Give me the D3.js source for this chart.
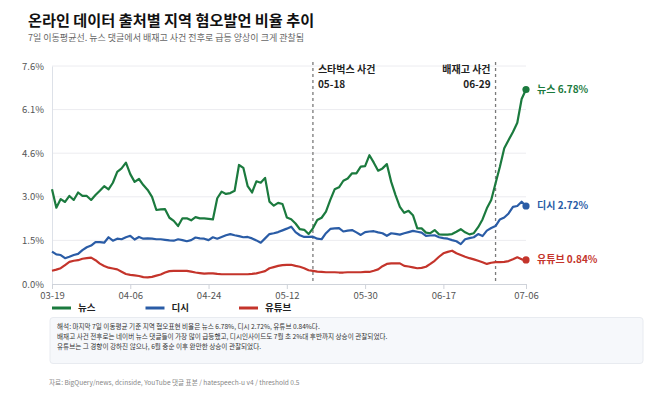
<!DOCTYPE html>
<html><head><meta charset="utf-8">
<script src="https://cdn.jsdelivr.net/npm/d3@7"></script>
<style>
html,body{margin:0;padding:0;background:#fff;}
svg{display:block;font-family:"Noto Sans CJK KR","Noto Sans",sans-serif;}
</style></head>
<body>
<svg id="c" width="658" height="403"></svg>
<script>
const startDate = "2025-03-19";
const endDate = "2025-07-06";
const xTickLabels = ["03-19","04-06","04-24","05-12","05-30","06-17","07-06"];
const yTicks = [0, 1.52, 3.04, 4.56, 6.08, 7.6];
const seriesNames = ["뉴스","디시","유튜브"];
const seriesColors = ["#1b7a3e","#2a5ca6","#c4342b"];
const news = [3.30,2.66,2.96,2.86,3.07,2.93,3.19,3.07,3.07,2.93,3.10,3.25,3.41,3.30,3.53,3.91,4.03,4.23,3.83,3.56,
3.66,3.45,3.28,3.04,2.58,2.60,2.61,2.31,2.20,2.02,2.29,2.29,2.22,2.33,2.29,2.29,2.27,2.25,2.99,3.22,
3.14,3.17,3.25,4.15,4.05,3.41,3.19,3.58,3.53,3.70,2.87,2.73,2.83,2.79,2.32,2.26,2.11,1.91,1.89,1.74,
1.94,2.23,2.31,2.52,2.93,3.30,3.37,3.60,3.68,3.86,3.86,4.09,4.11,4.49,4.23,3.95,4.03,4.18,3.56,3.10,
2.69,2.48,2.55,2.40,1.94,1.94,1.79,1.77,1.88,1.73,1.72,1.72,1.74,1.82,1.91,1.80,1.73,1.77,1.98,2.25,
2.64,2.93,3.51,4.09,4.73,5.02,5.30,5.62,6.45,6.78];
const dc = [1.13,1.03,1.01,0.90,0.95,1.01,1.05,1.18,1.28,1.34,1.46,1.46,1.44,1.63,1.51,1.58,1.56,1.63,1.68,1.55,
1.64,1.58,1.59,1.58,1.56,1.56,1.54,1.52,1.51,1.56,1.53,1.49,1.53,1.62,1.59,1.58,1.53,1.63,1.58,1.64,
1.70,1.74,1.70,1.67,1.63,1.64,1.59,1.52,1.44,1.59,1.74,1.77,1.81,1.87,1.93,2.00,1.81,1.70,1.64,1.64,
1.65,1.58,1.56,1.77,1.92,1.94,1.95,1.83,1.86,1.88,1.80,1.71,1.81,1.83,1.84,1.80,1.77,1.68,1.77,1.75,
1.72,1.77,1.81,1.85,1.82,1.79,1.68,1.69,1.70,1.63,1.60,1.58,1.53,1.49,1.39,1.56,1.60,1.63,1.74,1.67,
1.86,1.95,2.02,2.25,2.32,2.46,2.69,2.72,2.87,2.72];
const yt = [0.46,0.50,0.55,0.66,0.77,0.81,0.83,0.88,0.90,0.92,0.83,0.71,0.63,0.57,0.54,0.51,0.43,0.35,0.32,0.30,
0.28,0.24,0.23,0.25,0.29,0.33,0.40,0.45,0.46,0.46,0.46,0.46,0.43,0.40,0.38,0.36,0.37,0.37,0.35,0.34,
0.34,0.34,0.34,0.34,0.34,0.34,0.35,0.37,0.41,0.45,0.55,0.59,0.63,0.66,0.67,0.67,0.63,0.60,0.55,0.48,
0.46,0.43,0.42,0.41,0.41,0.41,0.40,0.40,0.41,0.41,0.41,0.41,0.42,0.42,0.46,0.51,0.62,0.70,0.72,0.72,
0.72,0.63,0.61,0.58,0.55,0.56,0.60,0.70,0.81,0.95,1.07,1.12,1.16,1.07,1.01,0.95,0.90,0.86,0.81,0.76,
0.70,0.74,0.76,0.76,0.77,0.80,0.86,0.93,0.86,0.84];
const events = [{label:"스타벅스 사건", date:"05-18", anchor:"start"},{label:"배재고 사건", date:"06-29", anchor:"end"}];
const noteLines = [
"해석: 마지막 7일 이동평균 기준 지역 혐오표현 비율은 뉴스 6.78%, 디시 2.72%, 유튜브 0.84%다.",
"배재고 사건 전후로는 네이버 뉴스 댓글들이 가장 많이 급등했고, 디시인사이드도 7월 초 2%대 후반까지 상승이 관찰되었다.",
"유튜브는 그 경향이 강하진 않으나, 6월 중순 이후 완만한 상승이 관찰되었다."];
const title = "온라인 데이터 출처별 지역 혐오발언 비율 추이";
const subtitle = "7일 이동평균선. 뉴스 댓글에서 배재고 사건 전후로 급등 양상이 크게 관찰됨";
const source = "자료: BigQuery/news, dcinside, YouTube 댓글 표본 / hatespeech-u v4 / threshold 0.5";

const year = "2025";
const parse = d3.timeParse("%Y-%m-%d");
const dates = d3.timeDay.range(parse(startDate), d3.timeDay.offset(parse(endDate), 1));
const seriesVals = [news, dc, yt];

const svg = d3.select("#c");
const L = 52, R = 526, T = 66, B = 284;
const x = d3.scaleTime().domain([parse(startDate), parse(endDate)]).range([L, R]);
const y = d3.scaleLinear().domain([0, 7.6]).range([B, T]);

svg.append("text").attr("x", 28).attr("y", 26).attr("font-size", 15.2).attr("font-weight", 700)
  .attr("fill", "#111").text(title);
svg.append("text").attr("x", 28).attr("y", 41).attr("font-size", 9).attr("fill", "#666").text(subtitle);

// grid
svg.append("g").selectAll("line").data(yTicks.slice(1)).join("line")
  .attr("x1", L).attr("x2", R).attr("y1", d => y(d)).attr("y2", d => y(d))
  .attr("stroke", "#ececf0").attr("stroke-width", 1);

// y axis
const ya = svg.append("g").attr("transform", `translate(${L},0)`)
  .call(d3.axisLeft(y).tickValues(yTicks).tickFormat(d => d3.format(".1f")(d) + "%").tickSize(0).tickPadding(8));
ya.select(".domain").attr("stroke", "#dde1e8");
ya.selectAll("text").attr("font-size", 9.5).attr("fill", "#555").attr("font-family", "'Noto Sans CJK KR',sans-serif");

// x axis
const xTickDates = xTickLabels.map(s => parse(year + "-" + s));
const xa = svg.append("g").attr("transform", `translate(0,${B})`)
  .call(d3.axisBottom(x).tickValues(xTickDates).tickFormat(d3.timeFormat("%m-%d")).tickSize(5).tickPadding(3));
xa.select(".domain").attr("stroke", "#cfd3da");
xa.selectAll(".tick line").attr("stroke", "#cfd3da");
xa.selectAll("text").attr("font-size", 9.5).attr("fill", "#555").attr("font-family", "'Noto Sans CJK KR',sans-serif");

// events
events.forEach(ev => {
  const d = parse(year + "-" + ev.date);
  const ex = x(d);
  svg.append("line").attr("x1", ex).attr("x2", ex).attr("y1", 62).attr("y2", B)
    .attr("stroke", "#7a7a7a").attr("stroke-width", 1.3).attr("stroke-dasharray", "3,3");
  const tx = ev.anchor === "start" ? ex + 5 : ex - 5;
  const t = svg.append("text").attr("y", 72.5).attr("text-anchor", ev.anchor)
    .attr("font-size", 10).attr("font-weight", 700).attr("fill", "#222");
  t.append("tspan").attr("x", tx).attr("y", 72.5).text(ev.label);
  t.append("tspan").attr("x", tx).attr("y", 87.5).text(ev.date);
});

// lines
const line = d3.line().x((d, i) => x(dates[i])).y(d => y(d)).curve(d3.curveLinear);
seriesVals.forEach((vals, k) => {
  svg.append("path").datum(vals).attr("d", line).attr("fill", "none")
    .attr("stroke", seriesColors[k]).attr("stroke-width", 2.2).attr("stroke-linejoin", "round");
  const last = vals[vals.length - 1];
  const lx = x(dates[vals.length - 1]);
  svg.append("circle").attr("cx", lx).attr("cy", y(last)).attr("r", 3.6).attr("fill", seriesColors[k]);
  svg.append("text").attr("x", lx + 11).attr("y", y(last)).attr("dy", "0.35em")
    .attr("font-size", 10).attr("font-weight", 700).attr("fill", seriesColors[k])
    .text(seriesNames[k] + " " + d3.format(".2f")(last) + "%");
});

// legend
const lg = svg.append("g").attr("transform", "translate(52,308)");
seriesNames.forEach((n, k) => {
  const g = lg.append("g").attr("transform", `translate(${k * 93.5},0)`);
  g.append("line").attr("x1", 0).attr("x2", 19).attr("y1", 0).attr("y2", 0)
    .attr("stroke", seriesColors[k]).attr("stroke-width", 3);
  g.append("text").attr("x", 26).attr("y", 0).attr("dy", "0.35em").attr("font-size", 9.5)
    .attr("font-weight", 700).attr("fill", "#222").text(n);
});

// note box
svg.append("rect").attr("x", 50).attr("y", 317.5).attr("width", 593).attr("height", 46).attr("rx", 3)
  .attr("fill", "#f6f8fb").attr("stroke", "#e8ebf0");
noteLines.forEach((t, i) => {
  svg.append("text").attr("x", 57).attr("y", 328.5 + i * 10.3).attr("font-size", 6.6)
    .attr("fill", "#333").text(t);
});

svg.append("text").attr("x", 49).attr("y", 385).attr("font-size", 6.6).attr("fill", "#888").text(source);
</script>
</body></html>
